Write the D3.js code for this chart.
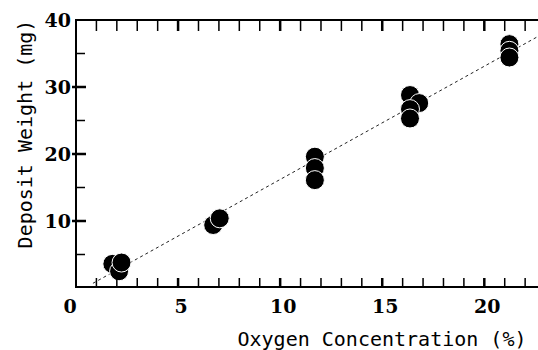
<!DOCTYPE html>
<html>
<head>
<meta charset="utf-8">
<script src="https://cdn.jsdelivr.net/npm/d3@7"></script>
<style>
  body { margin: 0; background: #fff; }
  .tick-label { font-family: "DejaVu Serif", serif; font-weight: bold; font-size: 19px; fill: #000; }
  .title { font-family: "DejaVu Sans Mono", monospace; font-size: 20px; fill: #000; }
</style>
</head>
<body>
<svg id="chart"></svg>
<script>
// data
const oxygen = [1.78, 2.11, 2.23, 6.72, 7.04, 11.7, 11.7, 11.7, 16.36, 16.81, 16.36, 16.36, 21.23, 21.23, 21.23];
const deposit = [3.6, 2.5, 3.8, 9.4, 10.4, 19.6, 17.9, 16.1, 28.8, 27.6, 26.7, 25.3, 36.4, 35.4, 34.4];
const fitLine = { slope: 1.69, intercept: -0.7, from: 0.83 };
const xTickLabels = [0, 5, 10, 15, 20];
const yTickLabels = [10, 20, 30, 40];
const xMinorTicks = d3.range(1, 23);
const yMinorTicks = [5, 15, 25, 35];
const yMajorTicks = [10, 20, 30];

const svg = d3.select('#chart')
  .attr('width', 538)
  .attr('height', 350);

const margin = { top: 20, right: 0, left: 76 };
const chartW = 538;
const bottomY = 287;

const x = d3.scaleLinear()
  .domain([0, 22.63])
  .range([margin.left, chartW - margin.right]);

const y = d3.scaleLinear()
  .domain([0, 40])
  .range([288, margin.top]);

// fit line (dotted)
const xMax = x.domain()[1];
svg.append('line')
  .attr('x1', x(fitLine.from))
  .attr('y1', y(fitLine.slope * fitLine.from + fitLine.intercept))
  .attr('x2', x(xMax))
  .attr('y2', y(fitLine.slope * xMax + fitLine.intercept))
  .attr('stroke', '#222')
  .attr('stroke-width', 1)
  .attr('stroke-dasharray', '3,3');

// points
svg.append('g')
  .selectAll('circle')
  .data(oxygen.map((d, i) => ({ x: d, y: deposit[i] })))
  .enter()
  .append('circle')
  .attr('cx', d => x(d.x))
  .attr('cy', d => y(d.y))
  .attr('r', 9.5)
  .attr('fill', '#000')
  .attr('stroke', '#fff')
  .attr('stroke-width', 1);

// frame: left, top, bottom
svg.append('path')
  .attr('d', `M${chartW},${margin.top}H${margin.left}V${bottomY}H${chartW}`)
  .attr('fill', 'none')
  .attr('stroke', '#000')
  .attr('stroke-width', 2);

// ticks pointing inward, built as paths from the scales
const minorPath = d3.path();
xMinorTicks.filter(d => d % 5 !== 0).forEach(d => {
  minorPath.moveTo(x(d), bottomY); minorPath.lineTo(x(d), bottomY - 9);
  minorPath.moveTo(x(d), margin.top); minorPath.lineTo(x(d), margin.top + 11);
});
yMinorTicks.forEach(d => {
  minorPath.moveTo(margin.left, y(d)); minorPath.lineTo(margin.left + 9, y(d));
});

const majorPath = d3.path();
xMinorTicks.filter(d => d % 5 === 0).forEach(d => {
  majorPath.moveTo(x(d), bottomY); majorPath.lineTo(x(d), bottomY - 9);
  majorPath.moveTo(x(d), margin.top); majorPath.lineTo(x(d), margin.top + 11);
});
yMajorTicks.forEach(d => {
  majorPath.moveTo(margin.left - 4, y(d)); majorPath.lineTo(margin.left + 10, y(d));
});

svg.append('path')
  .attr('d', minorPath.toString())
  .attr('fill', 'none')
  .attr('stroke', '#000')
  .attr('stroke-width', 1.5);

svg.append('path')
  .attr('d', majorPath.toString())
  .attr('fill', 'none')
  .attr('stroke', '#000')
  .attr('stroke-width', 2.5);

// tick labels
svg.append('g')
  .selectAll('text')
  .data(xTickLabels)
  .enter()
  .append('text')
  .attr('class', 'tick-label')
  .attr('text-anchor', 'middle')
  .attr('x', d => x(d) + (d === 0 ? -6 : 3))
  .attr('y', 313)
  .text(d => d);

svg.append('g')
  .selectAll('text')
  .data(yTickLabels)
  .enter()
  .append('text')
  .attr('class', 'tick-label')
  .attr('text-anchor', 'end')
  .attr('x', margin.left - 5)
  .attr('y', d => y(d) + 7)
  .text(d => d);

// axis titles
svg.append('text')
  .attr('class', 'title')
  .attr('text-anchor', 'middle')
  .attr('x', 382)
  .attr('y', 346)
  .text('Oxygen Concentration (%)');

svg.append('text')
  .attr('class', 'title')
  .attr('text-anchor', 'middle')
  .attr('transform', 'translate(32,134)rotate(-90)')
  .text('Deposit Weight (mg)');
</script>
</body>
</html>
